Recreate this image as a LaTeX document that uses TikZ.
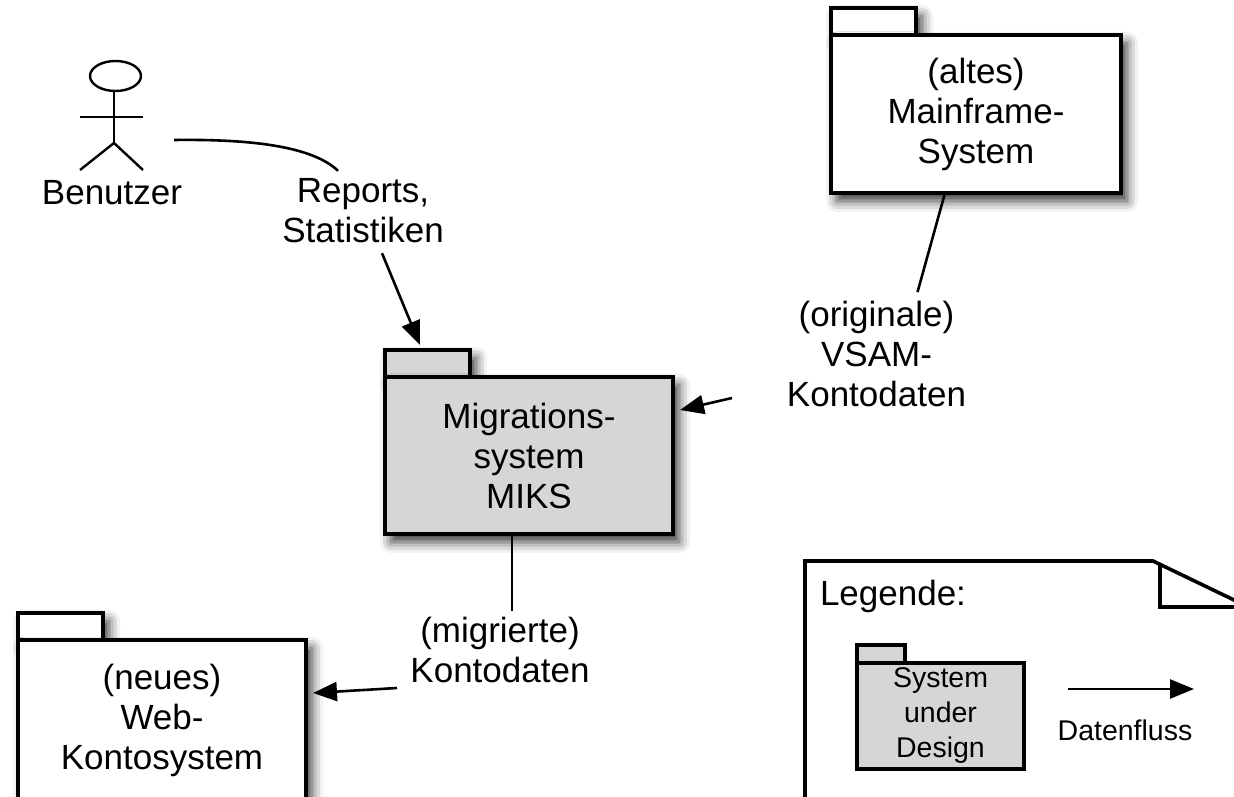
\documentclass[tikz,border=0pt]{standalone}
\usepackage{fontspec}
\setmainfont{Liberation Sans}
\usetikzlibrary{arrows.meta,positioning,shadows.blur}
\definecolor{sudgray}{RGB}{214,214,214}
\newcommand\lblfont{\fontsize{35}{40}\selectfont}
\newcommand\legfont{\fontsize{28.5}{35}\selectfont}
\begin{document}
\begin{tikzpicture}[x=1pt,y=1pt,
    pkgtab/.style={draw,line width=3.6pt,fill=white,inner sep=0,outer sep=0,minimum width=85pt,minimum height=27pt,anchor=south west},
    pkgbody/.style={draw,line width=3.6pt,fill=white,inner sep=0,outer sep=0,align=center,anchor=north west,font=\lblfont},
    dropshade/.style={blur shadow={shadow xshift=6pt,shadow yshift=-8pt,shadow blur radius=11pt,shadow opacity=80}},
    lbl/.style={inner sep=0,outer sep=0,align=center,font=\lblfont},
    link/.style={line width=2.6pt},
    flow/.style={line width=2.6pt,-{Triangle[length=24pt,width=19pt]}}]
                        \useasboundingbox (0,0) rectangle (1234,796);
                        \clip (0,0) rectangle (1234,796);

                        % Drawing actor Benutzer
                        \draw [line width=2.4pt] (115.5,720) ellipse [x radius=25.5pt, y radius=15pt];%
                        \draw [line width=2.4pt] (114,705) -- (114,653);%
                        \draw [line width=2.4pt] (80,679) -- (143,679);%
                        \draw [line width=2.4pt] (80,626) -- (114,653) -- (143,626);%
                        \node [lbl] (user) at (112,603.5) {Benutzer};%

                        % Drawing package Mainframe
                        \node [pkgtab,dropshade] (maintab) at (831,761) {};%
                        \node [pkgbody,dropshade,minimum width=290pt,minimum height=158pt] (main) at (maintab.south west) {(altes)\\Mainframe-\\System};%

                        % Drawing package Migrationssystem (system under design)
                        \node [pkgtab,dropshade,fill=sudgray] (migtab) at (385,419) {};%
                        \node [pkgbody,dropshade,fill=sudgray,minimum width=288pt,minimum height=157pt] (mig) at (migtab.south west) {Migrations-\\system\\MIKS};%

                        % Drawing package Web-Kontosystem
                        \node [pkgtab,dropshade] (webtab) at (18,156) {};%
                        \node [pkgbody,dropshade,minimum width=288pt,minimum height=160pt] (web) at (webtab.south west) {(neues)\\Web-\\Kontosystem};%

                        % Data flow labels
                        \node [lbl] (rep) at (363,585) {Reports,\\Statistiken};%
                        \node [lbl] (orig) at (876.5,442) {(originale)\\VSAM-\\Kontodaten};%
                        \node [lbl] (migr) at (500,146.5) {(migrierte)\\Kontodaten};%

                        % Drawing flow Benutzer - Migrationssystem
                        \coordinate (userarm) at (174,656);%
                        \draw [link] (userarm) .. controls (250,657) and (312,650) .. ([shift={(-25pt,8pt)}]rep.north);%
                        \draw [flow] ([shift={(19pt,-10pt)}]rep.south) -- ([shift={(-7.5pt,5pt)}]migtab.north);%

                        % Drawing flow Mainframe - Migrationssystem
                        \draw [link] ([xshift=-31pt]main.south) -- ([shift={(41pt,9pt)}]orig.north);%
                        \draw [flow] ([shift={(-55pt,-44pt)}]orig.west) -- ([shift={(7pt,45.5pt)}]mig.east);%

                        % Drawing flow Migrationssystem - Web-Kontosystem
                        \draw [link] ([xshift=-17pt]mig.south) -- ([shift={(12pt,6pt)}]migr.north);%
                        \draw [flow] ([shift={(-13.5pt,-38.5pt)}]migr.west) -- ([shift={(7pt,27pt)}]web.east);%

                        % Drawing legend note
                        \draw [line width=3.6pt] (805,-10) -- (805,235) -- (1153,235) -- (1250,188.3);%
                        \draw [line width=3.6pt] (1160,233) -- (1160,189) -- (1250,189);%
                        \node [lbl,anchor=base west] (legend) at (820,191) {Legende:};%
                        \node [pkgtab,fill=sudgray,minimum width=48pt,minimum height=18pt] (sudtab) at (857,133) {};%
                        \node [pkgbody,fill=sudgray,font=\legfont,minimum width=167pt,minimum height=106pt] (sud) at (sudtab.south west) {System\\under\\Design};%
                        \coordinate (dfstart) at (1068,107);%
                        \coordinate (dfend) at (1194,107);%
                        \draw [flow] (dfstart) -- (dfend);%
                        \node [lbl,font=\legfont,anchor=base] (dfl) at (1125,56) {Datenfluss};%
\end{tikzpicture}
\end{document}
